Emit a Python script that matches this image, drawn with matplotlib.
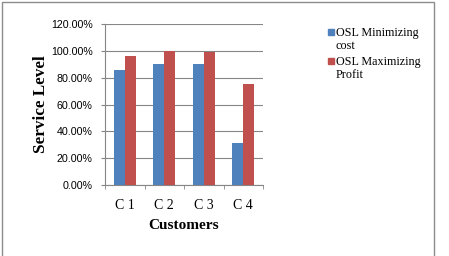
import numpy as np
import matplotlib.pyplot as plt
from matplotlib.patches import Rectangle

customers = ['C 1', 'C 2', 'C 3', 'C 4']
osl_min_cost = [0.86, 0.905, 0.905, 0.315]
osl_max_profit = [0.965, 1.0, 0.995, 0.755]
y_ticks = [0, 0.2, 0.4, 0.6, 0.8, 1.0, 1.2]
series_names = ['OSL Minimizing\ncost', 'OSL Maximizing\nProfit']
colors = ['#4F81BD', '#C0504D']

fig = plt.figure(figsize=(4.49, 2.56), dpi=100)
ax = fig.add_axes([0.2339, 0.2773, 0.3519, 0.6289])

x = np.arange(len(customers))
w = 0.28
ax.bar(x - w / 2, osl_min_cost, w, color=colors[0], zorder=3)
ax.bar(x + w / 2, osl_max_profit, w, color=colors[1], zorder=3)

ax.set_xlim(-0.5, len(customers) - 0.5)
ax.set_ylim(0, 1.2)
ax.set_yticks(y_ticks)
ax.set_yticklabels(['%.2f%%' % (v * 100) for v in y_ticks], fontsize=7.7, family='Liberation Sans')
ax.set_xticks(x)
ax.set_xticklabels(customers, fontsize=10, family='Liberation Serif')
ax.set_xticks(np.arange(len(customers) + 1) - 0.5, minor=True)
ax.tick_params(axis='x', which='major', length=0, pad=10)
ax.tick_params(axis='x', which='minor', length=3, color='#868686')
ax.tick_params(axis='y', length=3, color='#868686', pad=6)
ax.grid(axis='y', color='#868686', linewidth=0.8, zorder=0)
for s in ['top', 'right']:
    ax.spines[s].set_visible(False)
for s in ['left', 'bottom']:
    ax.spines[s].set_color('#868686')

ax.set_xlabel('Customers', fontsize=11, fontweight='bold', family='Liberation Serif', labelpad=5)
ax.set_ylabel('Service Level', fontsize=12.3, fontweight='bold', family='Liberation Serif', labelpad=1)

# legend (square aligned with first text line, like Excel)
for i, (name, c) in enumerate(zip(series_names, colors)):
    ytop = 1 - (28 + i * 29) / 256
    fig.patches.append(Rectangle((328 / 449, ytop - 7 / 256), 6 / 449, 6 / 256,
                                 transform=fig.transFigure, color=c))
    fig.text(336 / 449, ytop + 1 / 256, name, fontsize=8.7, family='Liberation Serif',
             va='top', ha='left', linespacing=1.15)

# outer frame
fig.patches.append(Rectangle((2 / 449, -0.1), 432 / 449, 1.1 - 2 / 256, transform=fig.transFigure,
                             fill=False, edgecolor='#8c8c8c', linewidth=1))

fig.savefig('out.png', dpi=100)
